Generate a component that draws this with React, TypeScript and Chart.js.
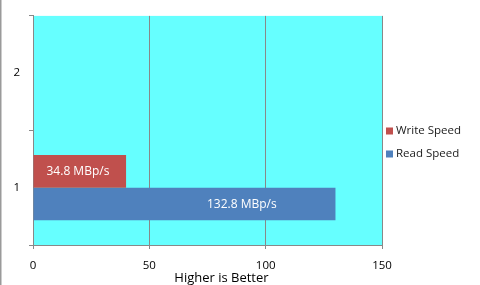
import React, { useEffect, useRef } from "react";
import { Chart, registerables } from "chart.js";

Chart.register(...registerables);

const categories = ["1", "2"];
const writeValues: (number | null)[] = [40, null];
const readValues: (number | null)[] = [130, null];
const writeLabels = ["34.8 MBp/s", ""];
const readLabels = ["132.8 MBp/s", ""];
const seriesNames = ["Write Speed", "Read Speed"];
const xTicks = [0, 50, 100, 150];
const axisTitle = "Higher is Better";

const FONT = "'Open Sans', 'Liberation Sans', sans-serif";

export default function App() {
  const ref = useRef<HTMLCanvasElement | null>(null);

  useEffect(() => {
    document.body.style.margin = "0";
    const canvas = ref.current;
    if (!canvas) return;

    const bgPlugin = {
      id: "bgPlugin",
      beforeDraw(chart: any) {
        const { ctx, chartArea } = chart;
        ctx.save();
        ctx.fillStyle = "#ffffff";
        ctx.fillRect(0, 0, chart.width, chart.height);
        ctx.fillStyle = "#66ffff";
        ctx.fillRect(chartArea.left, chartArea.top, chartArea.right - chartArea.left, chartArea.bottom - chartArea.top);
        ctx.fillStyle = "#9a9a9a";
        ctx.fillRect(0, 0, 1.5, chart.height);
        ctx.restore();
      },
    };

    const labelPlugin = {
      id: "labelPlugin",
      afterDatasetsDraw(chart: any) {
        const { ctx } = chart;
        ctx.save();
        ctx.font = `12px ${FONT}`;
        ctx.fillStyle = "#ffffff";
        ctx.textAlign = "center";
        ctx.textBaseline = "middle";
        chart.data.datasets.forEach((ds: any, di: number) => {
          const meta = chart.getDatasetMeta(di);
          meta.data.forEach((bar: any, i: number) => {
            const txt = ds.valueLabels[i];
            if (!txt) return;
            const x = bar.base + (bar.x - bar.base) * ds.labelAnchor;
            ctx.fillText(txt, x, bar.y + 0.5);
          });
        });
        ctx.restore();
      },
    };

    const legendPlugin = {
      id: "legendPlugin",
      afterDraw(chart: any) {
        const { ctx, chartArea } = chart;
        ctx.save();
        ctx.font = `11.5px ${FONT}`;
        ctx.textBaseline = "middle";
        ctx.textAlign = "left";
        const x0 = chartArea.right + 4;
        const ys = [131, 154];
        chart.data.datasets.forEach((ds: any, i: number) => {
          ctx.fillStyle = ds.backgroundColor;
          ctx.fillRect(x0, ys[i] - 3.5, 7, 7);
          ctx.fillStyle = "#1a1a1a";
          ctx.fillText(ds.label, x0 + 10, ys[i]);
        });
        // axis title
        ctx.font = `13px ${FONT}`;
        ctx.fillStyle = "#000000";
        ctx.textAlign = "center";
        const xs = chart.scales.x;
        ctx.fillText(axisTitle, xs.getPixelForValue(81), 278);
        ctx.restore();
      },
    };

    const chart = new Chart(canvas, {
      type: "bar",
      data: {
        labels: categories,
        datasets: [
          {
            label: seriesNames[0],
            data: writeValues,
            backgroundColor: "#c0504d",
            categoryPercentage: 0.57,
            barPercentage: 1,
            valueLabels: writeLabels,
            labelAnchor: 0.48,
          } as any,
          {
            label: seriesNames[1],
            data: readValues,
            backgroundColor: "#4f81bd",
            categoryPercentage: 0.57,
            barPercentage: 1,
            valueLabels: readLabels,
            labelAnchor: 0.69,
          } as any,
        ],
      },
      options: {
        indexAxis: "y",
        animation: false,
        responsive: false,
        maintainAspectRatio: false,
        layout: { padding: { top: 14, right: 98, left: 0, bottom: 0 } },
        plugins: {
          legend: { display: false },
          tooltip: { enabled: false },
        },
        scales: {
          y: {
            reverse: true,
            offset: true,
            grid: {
              offset: true,
              drawOnChartArea: false,
              tickLength: 4,
              color: "#888888",
            },
            border: { color: "#888888" },
            ticks: { color: "#000000", font: { size: 11.5, family: FONT }, padding: 9 },
            afterFit(scale: any) {
              scale.width = 33;
            },
          },
          x: {
            min: xTicks[0],
            max: xTicks[xTicks.length - 1],
            afterBuildTicks(scale: any) {
              scale.ticks = xTicks.map((v) => ({ value: v }));
            },
            grid: { color: "#888888", tickLength: 4 },
            border: { color: "#888888" },
            ticks: { color: "#000000", font: { size: 11.5, family: FONT }, padding: 10 },
            afterFit(scale: any) {
              scale.height = 40;
            },
          },
        },
      } as any,
      plugins: [bgPlugin, labelPlugin, legendPlugin],
    });

    return () => chart.destroy();
  }, []);

  return (
    <div style={{ width: 480, height: 285 }}>
      <canvas ref={ref} width={480} height={285} style={{ display: "block", width: 480, height: 285 }} />
    </div>
  );
}
